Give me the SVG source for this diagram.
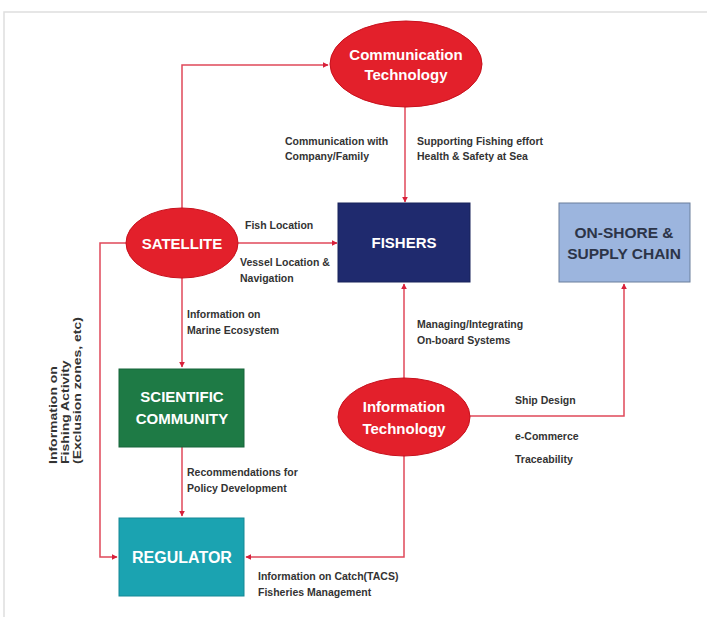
<svg xmlns="http://www.w3.org/2000/svg" width="707" height="617" viewBox="0 0 707 617">
<style>
.frame{fill:#fff;stroke:#dedede;stroke-width:1.5}
.oval{fill:#e3202b;stroke:#c8101c;stroke-width:1}
.ntxt{font-family:"Liberation Sans",Arial,sans-serif;font-weight:bold;font-size:15px;fill:#fff;text-anchor:middle}
.lbl{font-family:"Liberation Sans",Arial,sans-serif;font-weight:bold;font-size:10.5px;fill:#333}
.con{fill:none;stroke:#e0485a;stroke-width:1.5}
</style>
<defs>
<marker id="ah" viewBox="0 0 10 10" refX="9" refY="5" markerWidth="6" markerHeight="6" orient="auto" markerUnits="userSpaceOnUse"><path d="M0,0 L10,5 L0,10 z" fill="#d8203a"/></marker>
</defs>
<rect class="frame" x="4" y="12" width="710" height="610"/>
<g id="connectors">
<path class="con" d="M182,208 V65 H328" marker-end="url(#ah)"/>
<path class="con" d="M405,107 V202" marker-end="url(#ah)"/>
<path class="con" d="M238,243 H337" marker-end="url(#ah)"/>
<path class="con" d="M126,243 H100 V557 H117" marker-end="url(#ah)"/>
<path class="con" d="M182,278 V367" marker-end="url(#ah)"/>
<path class="con" d="M182,447 V516" marker-end="url(#ah)"/>
<path class="con" d="M404,378 V284" marker-end="url(#ah)"/>
<path class="con" d="M470,416 H624 V284" marker-end="url(#ah)"/>
<path class="con" d="M404,455 V557 H246" marker-end="url(#ah)"/>
</g>
<g id="labels">
<text class="lbl" x="285" y="145">Communication with</text>
<text class="lbl" x="285" y="160">Company/Family</text>
<text class="lbl" x="417" y="145">Supporting Fishing effort</text>
<text class="lbl" x="417" y="160">Health &amp; Safety at Sea</text>
<text class="lbl" x="245" y="229">Fish Location</text>
<text class="lbl" x="240" y="266">Vessel Location &amp;</text>
<text class="lbl" x="240" y="282">Navigation</text>
<text class="lbl" x="187" y="318">Information on</text>
<text class="lbl" x="187" y="334">Marine Ecosystem</text>
<text class="lbl" x="187" y="476">Recommendations for</text>
<text class="lbl" x="187" y="492">Policy Development</text>
<text class="lbl" x="417" y="328">Managing/Integrating</text>
<text class="lbl" x="417" y="344">On-board Systems</text>
<text class="lbl" x="515" y="404">Ship Design</text>
<text class="lbl" x="515" y="440">e-Commerce</text>
<text class="lbl" x="515" y="463">Traceability</text>
<text class="lbl" x="258" y="580">Information on Catch(TACS)</text>
<text class="lbl" x="258" y="596">Fisheries Management</text>
<g transform="translate(65,464) rotate(-90) scale(1.4,1)">
<text class="lbl" x="0" y="-8" style="font-size:10px">Information on</text>
<text class="lbl" x="0" y="4" style="font-size:10px">Fishing Activity</text>
<text class="lbl" x="0" y="16" style="font-size:10px">(Exclusion zones, etc)</text>
</g>
</g>
<g id="comm-tech">
<ellipse class="oval" cx="406" cy="64" rx="76" ry="43"/>
<text class="ntxt" x="406" y="60">Communication</text>
<text class="ntxt" x="406" y="80">Technology</text>
</g>
<g id="satellite">
<ellipse class="oval" cx="182" cy="243" rx="56" ry="35"/>
<text class="ntxt" x="182" y="249">SATELLITE</text>
</g>
<g id="fishers">
<rect x="338" y="203" width="132" height="79" fill="#1f2a6e" stroke="#18225a"/>
<text class="ntxt" x="404" y="248">FISHERS</text>
</g>
<g id="onshore">
<rect x="559" y="203" width="131" height="79" fill="#9cb5de" stroke="#6b7f9c"/>
<text class="ntxt" x="624" y="238" style="fill:#2c3448;font-size:15.5px">ON-SHORE &amp;</text>
<text class="ntxt" x="624" y="259" style="fill:#2c3448;font-size:15.5px">SUPPLY CHAIN</text>
</g>
<g id="scientific">
<rect x="119" y="369" width="125" height="78" fill="#1e7a45" stroke="#17653a"/>
<text class="ntxt" x="182" y="402">SCIENTIFIC</text>
<text class="ntxt" x="182" y="424">COMMUNITY</text>
</g>
<g id="regulator">
<rect x="119" y="518" width="125" height="78" fill="#1ba3b1" stroke="#158895"/>
<text class="ntxt" x="182" y="563" style="font-size:16px">REGULATOR</text>
</g>
<g id="info-tech">
<ellipse class="oval" cx="404" cy="417" rx="66" ry="39"/>
<text class="ntxt" x="404" y="412">Information</text>
<text class="ntxt" x="404" y="434">Technology</text>
</g>
</svg>
